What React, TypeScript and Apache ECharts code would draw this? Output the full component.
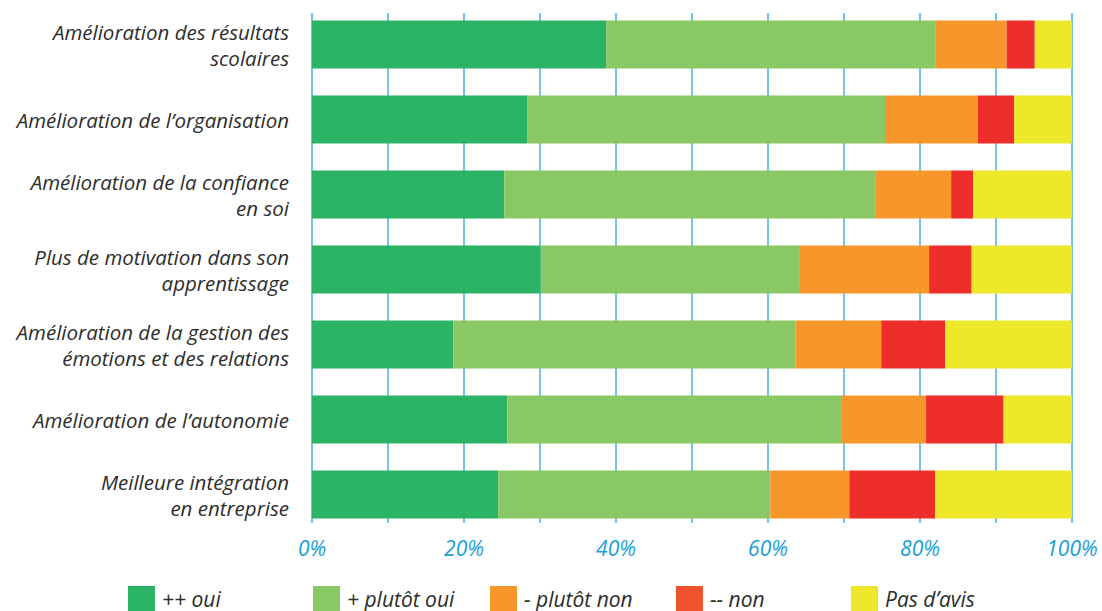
import React, { useEffect, useRef } from "react";
import * as echarts from "echarts";

const categories = [
  "Amélioration des résultats\nscolaires",
  "Amélioration de l’organisation",
  "Amélioration de la confiance\nen soi",
  "Plus de motivation dans son\napprentissage",
  "Amélioration de la gestion des\némotions et des relations",
  "Amélioration de l’autonomie",
  "Meilleure intégration\nen entreprise",
];

const seriesNames = ["++ oui", "+ plutôt oui", "- plutôt non", "-- non", "Pas d’avis"];

const ouiPlus = [38.7, 28.3, 25.3, 30.1, 18.6, 25.7, 24.5];
const plutotOui = [43.3, 47.1, 48.8, 34.1, 45.0, 43.9, 35.8];
const plutotNon = [9.4, 12.2, 10.0, 17.0, 11.3, 11.2, 10.4];
const nonMoins = [3.7, 4.8, 2.9, 5.6, 8.4, 10.2, 11.3];
const pasAvis = [4.9, 7.6, 13.0, 13.2, 16.7, 9.0, 18.0];

const seriesValues = [ouiPlus, plutotOui, plutotNon, nonMoins, pasAvis];
const colors = ["#2bb366", "#8ac865", "#f6962b", "#ee2e2b", "#ede829"];
const legendColors = ["#2bb366", "#8ac865", "#f6962b", "#f05230", "#ede829"];
const legendLefts = [128, 313, 490, 676, 851];

const FONT = "'Open Sans', 'Noto Sans', sans-serif";
const BLUE = "#4ab0e0";

export default function App() {
  const ref = useRef<HTMLDivElement>(null);

  useEffect(() => {
    document.body.style.margin = "0";
    if (!ref.current) return;
    const chart = echarts.init(ref.current, undefined, { renderer: "svg" });
    chart.setOption({
      animation: false,
      grid: [
        { left: 312, width: 760, top: 7, height: 525 },
        { left: 312, width: 760, top: 13, height: 510 },
      ],
      xAxis: [
        { type: "value", gridIndex: 0, min: 0, max: 100, show: false },
        {
          type: "value",
          gridIndex: 1,
          min: 0,
          max: 100,
          interval: 10,
          axisLine: { show: false },
          axisTick: { show: false },
          splitLine: { show: true, lineStyle: { color: BLUE, width: 1.5 } },
          axisLabel: {
            margin: 14,
            fontFamily: FONT,
            fontStyle: "italic",
            fontSize: 21,
            color: "#1a9edb",
            formatter: (v: number) => (v % 20 === 0 ? v + "%" : ""),
          },
        },
      ],
      yAxis: [
        {
          type: "category",
          gridIndex: 0,
          data: categories,
          inverse: true,
          axisLine: { show: false },
          axisTick: { show: false },
          splitLine: { show: false },
          axisLabel: {
            margin: 23,
            fontFamily: FONT,
            fontStyle: "italic",
            fontSize: 20.5,
            lineHeight: 26,
            color: "#2d2d2d",
            align: "right",
          },
        },
        { type: "value", gridIndex: 1, show: false, min: 0, max: 1 },
      ],
      legend: seriesNames.map((n, i) => ({
        data: [{ name: n, itemStyle: { color: legendColors[i] } }],
        left: legendLefts[i],
        top: 586,
        padding: 0,
        itemWidth: 27,
        itemHeight: 25,
        icon: "rect",
        selectedMode: false,
        textStyle: {
          fontFamily: FONT,
          fontStyle: "italic",
          fontSize: 21,
          color: "#2d2d2d",
          padding: [0, 0, 0, 2],
        },
      })),
      series: seriesNames.map((n, i) => ({
        name: n,
        type: "bar",
        stack: "total",
        xAxisIndex: 0,
        yAxisIndex: 0,
        barWidth: 48,
        data: seriesValues[i],
        itemStyle: { color: colors[i] },
        z: 3,
      })),
    });
    return () => chart.dispose();
  }, []);

  return <div ref={ref} style={{ width: 1102, height: 611 }} />;
}
